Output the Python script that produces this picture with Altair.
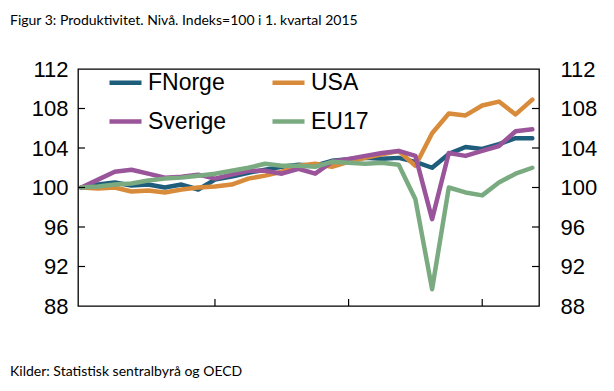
import altair as alt
import pandas as pd

tittel = "Figur 3: Produktivitet. Nivå. Indeks=100 i 1. kvartal 2015"
kilde = "Kilder: Statistisk sentralbyrå og OECD"

kvartal = [f"{y}K{q}" for y in range(2015, 2022) for q in range(1, 5)]

fnorge = [100.0, 100.3, 100.5, 100.2, 100.3, 100.0, 100.3, 99.8, 100.8, 101.1,
          101.5, 101.8, 102.1, 102.3, 102.2, 102.7, 102.85, 103.0, 102.9, 103.0,
          102.6, 102.0, 103.4, 104.1, 103.9, 104.4, 105.0, 105.0]
usa = [100.0, 99.9, 100.0, 99.6, 99.7, 99.5, 99.8, 100.0, 100.1, 100.3,
       100.9, 101.2, 101.6, 102.2, 102.4, 102.1, 102.6, 103.0, 103.35, 103.7,
       102.2, 105.5, 107.5, 107.3, 108.3, 108.7, 107.4, 108.9]
sverige = [100.0, 100.8, 101.6, 101.8, 101.4, 101.0, 101.1, 101.3, 100.9, 101.3,
           101.7, 101.7, 101.4, 101.9, 101.4, 102.6, 102.9, 103.2, 103.5, 103.7,
           103.2, 96.8, 103.5, 103.2, 103.7, 104.2, 105.7, 105.9]
eu17 = [100.0, 100.1, 100.3, 100.4, 100.7, 100.9, 101.0, 101.2, 101.4, 101.7,
        102.0, 102.4, 102.2, 102.2, 102.1, 102.6, 102.5, 102.4, 102.5, 102.3,
        98.8, 89.7, 100.0, 99.5, 99.2, 100.5, 101.4, 102.0]

serienavn = ["FNorge", "USA", "Sverige", "EU17"]
farger = ["#1f5d7c", "#d98b3c", "#9a559a", "#7aaa80"]
y_verdier = [88, 92, 96, 100, 104, 108, 112]
y_indre = [92, 96, 100, 104, 108]
x_verdier = [2015, 2017, 2019, 2021]
x_indre = [2017, 2019, 2021]

rows = []
for navn, vals in zip(serienavn, [fnorge, usa, sverige, eu17]):
    for k, v in zip(kvartal, vals):
        aar = int(k[:4]); q = int(k[-1])
        rows.append({"kvartal": k, "t": aar + (q - 1) / 4, "serie": navn, "verdi": v})
df = pd.DataFrame(rows)

W, H = 461, 237
FONT = "Liberation Sans"
xscale = alt.Scale(domain=[2014.95, 2021.85], nice=False, zero=False)
yscale = alt.Scale(domain=[88, 112], nice=False, zero=False)

lines = alt.Chart(df).mark_line(strokeWidth=4.5, strokeJoin="round", strokeCap="round").encode(
    x=alt.X("t:Q", scale=xscale,
            axis=alt.Axis(values=x_verdier, format="d", title=None, tickSize=0, domain=False,
                          grid=False, labelFontSize=22, labelFont=FONT, labelColor="black",
                          labelPadding=18, labelFlush=False)),
    y=alt.Y("verdi:Q", scale=yscale,
            axis=alt.Axis(orient="left", values=y_verdier, title=None, tickSize=0, domain=False,
                          grid=False, labelFontSize=22, labelFont=FONT, labelColor="black",
                          labelPadding=10)),
    color=alt.Color("serie:N", scale=alt.Scale(domain=serienavn, range=farger),
                    legend=alt.Legend(orient="none", legendX=29, legendY=-5, columns=2, title=None,
                                      direction="horizontal",
                                      symbolType="stroke", symbolSize=1024, symbolStrokeWidth=4.5,
                                      labelFontSize=23, labelFont=FONT, labelColor="black",
                                      columnPadding=37, rowPadding=8, labelOffset=4, padding=0)),
)

ytick_df = pd.DataFrame({"v": y_indre})
left_ticks = alt.Chart(ytick_df).mark_rule(color="black", strokeWidth=1.2).encode(
    y=alt.Y("v:Q", scale=yscale, axis=None), x=alt.value(0), x2=alt.value(7))
right_ticks = alt.Chart(ytick_df).mark_rule(color="black", strokeWidth=1.2).encode(
    y=alt.Y("v:Q", scale=yscale,
            axis=alt.Axis(orient="right", values=y_verdier, title=None, tickSize=0, domain=False,
                          grid=False, labelFontSize=22, labelFont=FONT, labelColor="black",
                          labelPadding=21)),
    x=alt.value(W - 7), x2=alt.value(W))

xtick_df = pd.DataFrame({"aar": x_indre})
x_ticks = alt.Chart(xtick_df).mark_rule(color="black", strokeWidth=1.2).encode(
    x=alt.X("aar:Q", scale=xscale, axis=None), y=alt.value(H), y2=alt.value(H - 7))

title_txt = alt.Chart(pd.DataFrame({"tekst": [tittel]})).mark_text(
    align="left", baseline="middle", font="Lato", fontSize=14, color="black").encode(
    text="tekst:N", x=alt.value(-68), y=alt.value(-48))
foot_txt = alt.Chart(pd.DataFrame({"tekst": [kilde]})).mark_text(
    align="left", baseline="middle", font="Lato", fontSize=14, color="black").encode(
    text="tekst:N", x=alt.value(-68), y=alt.value(303))

chart = alt.layer(lines, left_ticks, right_ticks, x_ticks, title_txt, foot_txt).resolve_scale(
    y="independent"
).properties(
    width=W, height=H,
    autosize=alt.AutoSizeParams(type="none"),
    padding={"left": 70, "top": 61, "right": 67, "bottom": 76},
).configure_view(stroke="black", strokeWidth=1.3)

chart.save("out.html", embed_options={"renderer": "svg", "actions": False})
